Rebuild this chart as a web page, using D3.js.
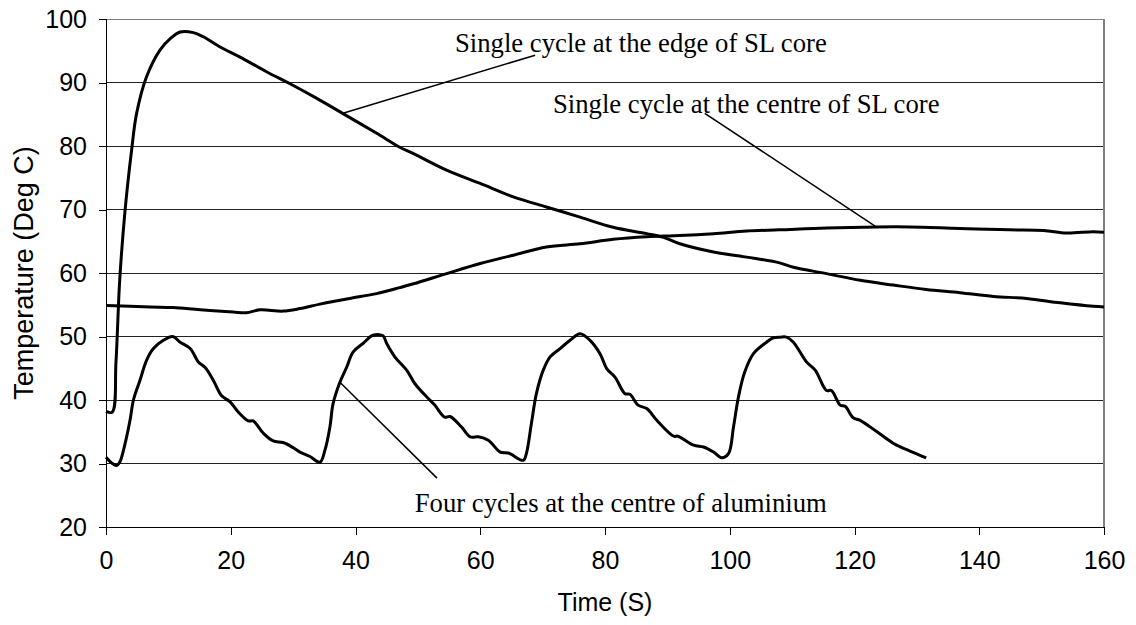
<!DOCTYPE html>
<html>
<head>
<meta charset="utf-8">
<script src="https://cdn.jsdelivr.net/npm/d3@7"></script>
<style>
  html, body { margin: 0; padding: 0; background: #fff; }
  svg { display: block; }
</style>
</head>
<body>
<svg id="chart" width="1136" height="625"></svg>
<script>
// ---- Data ----
const xTicks = [0, 20, 40, 60, 80, 100, 120, 140, 160];
const yTicks = [20, 30, 40, 50, 60, 70, 80, 90, 100];

// Single cycle at the edge of SL core
const edgeTime = [0, 1, 1.6, 2.2, 3.05, 4.1, 4.9, 6.5, 8.65, 10.3, 11.9, 14.0, 15.6, 18.3, 21.5, 25.8, 29.5, 33.8, 38.0, 43.4, 47.1, 49.3, 54.6, 60.0, 65.3, 70.6, 76.0, 81.3, 86.7, 89.4, 92.0, 97.4, 102.7, 108.0, 110.2, 115.5, 120.9, 126.2, 131.5, 136.9, 142.3, 147.6, 153.0, 158.3, 160];
const edgeTemp = [38.2, 38.1, 46, 58.9, 69.8, 79.3, 85.1, 90.9, 95.1, 96.9, 97.95, 97.85, 97.2, 95.6, 94.0, 91.65, 89.8, 87.5, 85.1, 82.0, 79.8, 78.8, 76.2, 74.1, 72.0, 70.4, 68.8, 67.2, 66.2, 65.6, 64.6, 63.3, 62.5, 61.6, 60.9, 59.9, 58.85, 58.1, 57.4, 56.9, 56.3, 56.0, 55.3, 54.75, 54.65];

// Single cycle at the centre of SL core
const centreTime = [0, 7.05, 10.8, 15.1, 20.4, 22.5, 24.7, 28.4, 31.1, 34.3, 39.1, 43.4, 47.1, 49.3, 54.6, 60.0, 65.3, 70.6, 76.0, 81.3, 86.7, 92.0, 97.4, 102.7, 108.0, 115.5, 123.6, 128.9, 136.9, 144.9, 150.3, 154.0, 158.3, 160];
const centreTemp = [54.9, 54.65, 54.55, 54.2, 53.85, 53.75, 54.2, 54.0, 54.4, 55.1, 56.0, 56.75, 57.7, 58.3, 59.9, 61.5, 62.8, 64.1, 64.6, 65.3, 65.7, 65.9, 66.2, 66.6, 66.8, 67.1, 67.25, 67.25, 67.0, 66.8, 66.7, 66.3, 66.5, 66.4];

// Four cycles at the centre of aluminium
const aluTime = [0, 0.9, 1.7, 2.2, 3.05, 3.85, 4.4, 5.45, 6.5, 7.6, 9.2, 10.7, 11.9, 13.5, 14.8, 15.9, 17.2, 18.5, 19.9, 21.2, 22.8, 23.6, 25.2, 26.8, 28.4, 30.0, 31.1, 32.7, 34.3, 35.1, 35.9, 36.4, 37.5, 38.6, 39.6, 41.2, 42.8, 44.4, 45.0, 46.3, 48.2, 49.5, 51.4, 52.7, 54.3, 55.15, 57.0, 58.4, 59.7, 61.3, 63.2, 64.5, 66.9, 67.4, 68.2, 69.0, 70.1, 71.2, 72.8, 74.4, 76.0, 77.6, 79.2, 80.3, 81.6, 83.2, 84.0, 85.3, 86.7, 88.3, 91.0, 91.7, 94.2, 95.8, 97.4, 98.7, 99.8, 100.6, 101.4, 102.4, 103.8, 105.9, 107.0, 108.1, 109.1, 110.2, 112.3, 113.7, 115.5, 116.3, 117.7, 118.5, 119.8, 120.9, 123.6, 126.2, 128.9, 131.5];
const aluTemp = [31.0, 30.1, 29.7, 30.2, 33.1, 36.8, 40.0, 43.1, 46.25, 48.1, 49.4, 50.0, 49.1, 48.1, 46.0, 45.1, 43.1, 40.7, 39.7, 38.1, 36.7, 36.7, 34.8, 33.55, 33.3, 32.5, 31.8, 31.1, 30.2, 32.1, 35.75, 39.4, 42.8, 45.2, 47.55, 48.9, 50.2, 50.1, 48.9, 46.8, 44.7, 42.6, 40.5, 39.2, 37.3, 37.4, 35.75, 34.2, 34.2, 33.65, 31.8, 31.65, 30.5, 31.6, 36.3, 41.0, 44.7, 46.8, 48.1, 49.4, 50.45, 49.4, 47.3, 44.9, 43.6, 41.0, 40.9, 39.2, 38.65, 36.8, 34.3, 34.3, 32.9, 32.6, 31.8, 30.9, 31.55, 35.75, 40.5, 44.4, 47.3, 49.1, 49.8, 49.9, 49.9, 49.1, 46.0, 44.7, 41.5, 41.5, 39.2, 39.0, 37.2, 36.8, 35.0, 33.2, 31.95, 30.9];

// Annotations: label text, label anchor (time, temp), leader line from/to (time, temp)
const labelTexts = ["Single cycle at the edge of SL core", "Single cycle at the centre of SL core", "Four cycles at the centre of aluminium"];
const labelPos = [[55.95, 94.76], [71.66, 85.15], [49.5, 22.4]];
const leaderFrom = [[38.0, 85.15], [96.0, 85.15], [37.5, 42.8]];
const leaderTo = [[68.8, 94.3], [123.6, 67.2], [53.07, 27.7]];

// ---- Layout ----
const margin = { left: 106, top: 19, right: 1136 - 1104, bottom: 625 - 527 };
const W = 1136, H = 625;
const svg = d3.select("#chart");

const x = d3.scaleLinear().domain([0, 160]).range([margin.left, W - margin.right]);
const y = d3.scaleLinear().domain([20, 100]).range([H - margin.bottom, margin.top]);

// Gridlines
svg.append("g")
  .selectAll("line")
  .data(yTicks.filter(d => d > 20))
  .join("line")
  .attr("x1", x(0)).attr("x2", x(160))
  .attr("y1", d => y(d)).attr("y2", d => y(d))
  .attr("stroke", d => d === 100 ? "#808080" : "#222")
  .attr("stroke-width", 1)
  .attr("shape-rendering", "crispEdges");

// Right border
svg.append("line")
  .attr("x1", x(160)).attr("x2", x(160))
  .attr("y1", y(100)).attr("y2", y(20))
  .attr("stroke", "#808080").attr("stroke-width", 1.5)
  .attr("shape-rendering", "crispEdges");

// Axes
const xAxis = svg.append("g")
  .attr("transform", `translate(0,${y(20)})`)
  .call(d3.axisBottom(x).tickValues(xTicks).tickSize(8).tickPadding(16).tickFormat(d3.format("d")));
const yAxis = svg.append("g")
  .attr("transform", `translate(${x(0)},0)`)
  .call(d3.axisLeft(y).tickValues(yTicks).tickSize(7).tickPadding(12).tickFormat(d3.format("d")));

[xAxis, yAxis].forEach(g => {
  g.selectAll("path").attr("stroke", "#000").attr("stroke-width", 1.5).attr("shape-rendering", "crispEdges");
  g.selectAll("line").attr("stroke", "#000").attr("stroke-width", 1).attr("shape-rendering", "crispEdges");
  g.selectAll("text").attr("font-family", "'Liberation Sans', Arial, sans-serif").attr("font-size", 25).attr("fill", "#000");
});

// Axis titles
svg.append("text")
  .attr("x", (x(0) + x(160)) / 2).attr("y", 611)
  .attr("text-anchor", "middle")
  .attr("font-family", "'Liberation Sans', Arial, sans-serif").attr("font-size", 25)
  .text("Time (S)");
svg.append("text")
  .attr("transform", `translate(33,${(y(20) + y(100)) / 2}) rotate(-90)`)
  .attr("text-anchor", "middle")
  .attr("font-family", "'Liberation Sans', Arial, sans-serif").attr("font-size", 27)
  .text("Temperature (Deg C)");

// Data lines
const line = d3.line().x(d => x(d[0])).y(d => y(d[1])).curve(d3.curveCatmullRom.alpha(0.5));
const series = [
  d3.zip(edgeTime, edgeTemp),
  d3.zip(centreTime, centreTemp),
  d3.zip(aluTime, aluTemp)
];
svg.append("g").selectAll("path")
  .data(series)
  .join("path")
  .attr("d", line)
  .attr("fill", "none")
  .attr("stroke", "#000")
  .attr("stroke-width", 3)
  .attr("stroke-linejoin", "round");

// Leader lines
svg.append("g").selectAll("line")
  .data(d3.zip(leaderFrom, leaderTo))
  .join("line")
  .attr("x1", d => x(d[0][0])).attr("y1", d => y(d[0][1]))
  .attr("x2", d => x(d[1][0])).attr("y2", d => y(d[1][1]))
  .attr("stroke", "#000").attr("stroke-width", 1.5);

// Labels
svg.append("g").selectAll("text")
  .data(d3.zip(labelTexts, labelPos))
  .join("text")
  .attr("x", d => x(d[1][0])).attr("y", d => y(d[1][1]))
  .attr("font-family", "'Liberation Serif', 'Times New Roman', serif")
  .attr("font-size", 26.7)
  .attr("fill", "#000")
  .text(d => d[0]);
</script>
</body>
</html>
